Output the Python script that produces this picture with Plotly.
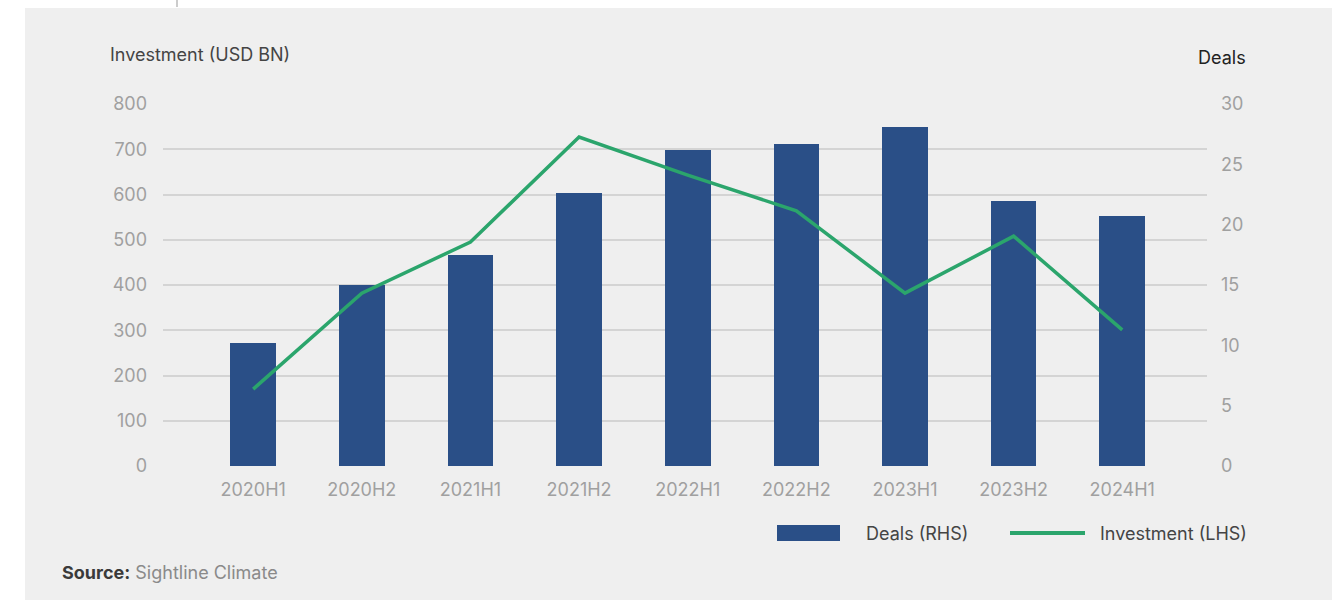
import plotly.graph_objects as go

categories = ["2020H1", "2020H2", "2021H1", "2021H2", "2022H1", "2022H2", "2023H1", "2023H2", "2024H1"]
deals = [10.2, 15.0, 17.5, 22.6, 26.2, 26.7, 28.1, 22.0, 20.7]
investment = [170, 382, 495, 727, 643, 564, 382, 508, 301]
left_ticks = [0, 100, 200, 300, 400, 500, 600, 700, 800]
right_ticks = [0, 5, 10, 15, 20, 25, 30]

BAR = "#2a4f87"
GREEN = "#2ba56c"
FONT = "Inter"
W, H = 1344, 600
L, R, T, B = 163, 137, 104, 134
pw, ph = W - L - R, H - T - B

def px(x):
    return (x - L) / pw

def py(y):
    return (H - B - y) / ph

fig = go.Figure()
fig.add_trace(go.Bar(x=categories, y=deals, marker=dict(color=BAR, line=dict(width=0)),
                     width=0.42, yaxis="y", name="Deals (RHS)", showlegend=False))
fig.add_trace(go.Scatter(x=categories, y=investment, mode="lines", line=dict(color=GREEN, width=3.5),
                         yaxis="y2", name="Investment (LHS)", showlegend=False))

tickfont = dict(family=FONT, size=18, color="#a0a0a0")
fig.update_layout(
    width=W, height=H,
    margin=dict(l=L, r=R, t=T, b=B, pad=0),
    paper_bgcolor="white",
    plot_bgcolor="rgba(0,0,0,0)",
    font=dict(family=FONT),
    xaxis=dict(range=[-0.83, 8.78], showgrid=False, showline=False, zeroline=False,
               tickfont=tickfont, ticks="", ticklabelstandoff=11),
    yaxis=dict(side="right", range=[0, 30], tickvals=right_ticks, showgrid=False,
               zeroline=False, showline=False, tickfont=tickfont, ticklabelstandoff=13),
    yaxis2=dict(side="left", overlaying="y", range=[0, 800], tickvals=left_ticks,
                showgrid=True, gridcolor="#d4d4d4", gridwidth=1.5, zeroline=False,
                showline=False, tickfont=tickfont, ticklabelstandoff=15),
    bargap=0,
)

shapes = [
    dict(type="rect", xref="paper", yref="paper", x0=px(25), x1=px(1332), y0=py(8), y1=py(600),
         fillcolor="#efefef", line=dict(width=0), layer="below"),
    dict(type="line", xref="paper", yref="paper", x0=px(177), x1=px(177), y0=py(0), y1=py(7),
         line=dict(color="#999999", width=1)),
    dict(type="rect", xref="paper", yref="paper", x0=px(777), x1=px(840), y0=py(525), y1=py(541),
         fillcolor=BAR, line=dict(width=0)),
    dict(type="line", xref="paper", yref="paper", x0=px(1010), x1=px(1085), y0=py(533), y1=py(533),
         line=dict(color=GREEN, width=4)),
]
fig.update_layout(shapes=shapes)

ann = [
    dict(text="Investment (USD BN)", x=px(108), y=py(55), xanchor="left", yanchor="middle",
         font=dict(family=FONT, size=18, color="#444444")),
    dict(text="Deals", x=px(1248), y=py(57), xanchor="right", yanchor="middle",
         font=dict(family=FONT, size=18, color="#222222")),
    dict(text="Deals (RHS)", x=px(864), y=py(533), xanchor="left", yanchor="middle",
         font=dict(family=FONT, size=18, color="#444444")),
    dict(text="Investment (LHS)", x=px(1098), y=py(533), xanchor="left", yanchor="middle",
         font=dict(family=FONT, size=18, color="#444444")),
    dict(text="<b>Source:</b> <span style='color:#8a8a8a'>Sightline Climate</span>", x=px(60), y=py(572),
         xanchor="left", yanchor="middle", font=dict(family=FONT, size=18, color="#3a3a3a")),
]
for a in ann:
    a.update(xref="paper", yref="paper", showarrow=False)
fig.update_layout(annotations=ann)

fig.write_html("out.html")
